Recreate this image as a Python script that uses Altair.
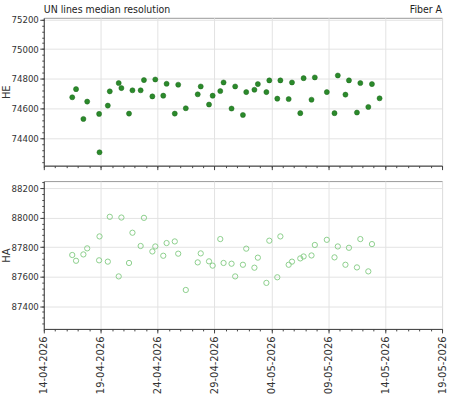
import altair as alt
import pandas as pd

TITLE_LEFT = "UN lines median resolution"
TITLE_RIGHT = "Fiber A"

times = [
    "2026-04-16T12:00", "2026-04-16T20:00", "2026-04-17T11:30", "2026-04-17T19:30",
    "2026-04-18T20:40", "2026-04-18T21:30", "2026-04-19T15:00", "2026-04-19T19:10",
    "2026-04-20T14:00", "2026-04-20T19:40", "2026-04-21T11:45", "2026-04-21T19:00",
    "2026-04-22T12:15", "2026-04-22T19:15", "2026-04-23T13:00", "2026-04-23T19:10",
    "2026-04-24T12:00", "2026-04-24T19:00", "2026-04-25T12:15", "2026-04-25T19:30",
    "2026-04-26T11:30", "2026-04-27T12:40", "2026-04-27T19:00", "2026-04-28T12:30",
    "2026-04-28T20:10", "2026-04-29T12:15", "2026-04-29T19:10", "2026-04-30T12:00",
    "2026-04-30T19:40", "2026-05-01T12:00", "2026-05-01T19:00", "2026-05-02T12:15",
    "2026-05-02T19:30", "2026-05-03T13:30", "2026-05-03T19:40", "2026-05-04T12:30",
    "2026-05-04T19:00", "2026-05-05T12:30", "2026-05-05T19:30", "2026-05-06T13:00",
    "2026-05-06T20:00", "2026-05-07T12:40", "2026-05-07T19:40", "2026-05-08T21:00",
    "2026-05-09T13:10", "2026-05-09T20:10", "2026-05-10T12:15", "2026-05-10T19:40",
    "2026-05-11T12:30", "2026-05-11T19:40", "2026-05-12T12:30", "2026-05-12T20:10",
    "2026-05-13T12:15",
]

he_values = [
    74675, 74730, 74529, 74646, 74563, 74304, 74619, 74715,
    74771, 74737, 74565, 74722, 74722, 74791, 74681, 74795,
    74686, 74766, 74565, 74760, 74601, 74695, 74748, 74626,
    74686, 74717, 74775, 74599, 74748, 74556, 74710, 74726,
    74764, 74710, 74789, 74666, 74789, 74663, 74775, 74568,
    74804, 74659, 74809, 74710, 74568, 74822, 74693, 74789,
    74572, 74771, 74610, 74764, 74668,
]

ha_values = [
    87746, 87707, 87750, 87791, 87710, 87872, 87701, 88005,
    87601, 88000, 87692, 87897, 87807, 87998, 87770, 87804,
    87741, 87827, 87838, 87755, 87509, 87696, 87757, 87703,
    87674, 87854, 87692, 87687, 87601, 87680, 87789, 87660,
    87728, 87557, 87843, 87595, 87872, 87680, 87701, 87723,
    87736, 87743, 87814, 87849, 87730, 87804, 87680, 87795,
    87662, 87854, 87635, 87820, None,
]

he_domain = [74214, 75211]
ha_domain = [87245, 88247]
he_ticks = [74400, 74600, 74800, 75000, 75200]
ha_ticks = [87400, 87600, 87800, 88000, 88200]
he_minor = list(range(74240, 75211, 40))
ha_minor = list(range(87280, 88247, 40))

x_major = [alt.DateTime(year=2026, month=m, date=d) for m, d in
           [(4, 14), (4, 19), (4, 24), (4, 29), (5, 4), (5, 9), (5, 14), (5, 19)]]
x_minor = ([alt.DateTime(year=2026, month=4, date=d) for d in range(14, 31)] +
           [alt.DateTime(year=2026, month=5, date=d) for d in range(1, 20)])
x_domain = [alt.DateTime(year=2026, month=4, date=14), alt.DateTime(year=2026, month=5, date=19)]

NARROW = "Liberation Sans Narrow, DejaVu Sans Condensed, Arial Narrow, sans-serif"
DEJAVU = "DejaVu Sans"
W, H = 400, 148.5

df = pd.DataFrame({"t": times, "HE": he_values, "HA": ha_values})
df_ha = df.dropna(subset=["HA"])

xscale = alt.Scale(domain=x_domain)


def panel(data, field, domain, ticks, minor, show_labels, mark):
    yscale = alt.Scale(domain=domain, nice=False, zero=False)
    main = mark.encode(
        x=alt.X("t:T", scale=xscale, title=None,
                axis=alt.Axis(values=x_major, format="%d-%m-%Y", labelAngle=270,
                              labels=show_labels, grid=True, tickSize=4,
                              labelFont=DEJAVU, labelFontSize=10, labelColor="#333",
                              labelPadding=3, orient="bottom")),
        y=alt.Y(f"{field}:Q", scale=yscale, title=field,
                axis=alt.Axis(values=ticks, format="d", grid=True, tickSize=4,
                              labelFont=NARROW, labelFontSize=9.6, labelColor="#333",
                              labelPadding=1.5, titleFont=DEJAVU, titleFontSize=10,
                              titleFontWeight="normal", titleColor="#333",
                              titlePadding=0, orient="left")),
    )
    minor_layer = alt.Chart(data).mark_point(opacity=0).encode(
        x=alt.X("t:T", scale=xscale, title=None,
                axis=alt.Axis(values=x_minor, labels=False, grid=False, domain=False,
                              tickSize=2, orient="bottom")),
        y=alt.Y(f"{field}:Q", scale=yscale, title=None,
                axis=alt.Axis(values=minor, labels=False, grid=False, domain=False,
                              tickSize=2, orient="left")),
    )
    return alt.layer(main, minor_layer).resolve_axis(x="independent", y="independent")


top_mark = alt.Chart(df).mark_point(filled=True, size=26, color="#2b8a2b", opacity=1,
                                    stroke="#1f6a1f", strokeWidth=0.5)
bottom_mark = alt.Chart(df_ha).mark_point(filled=False, size=28, color="#8ccf8c",
                                          strokeWidth=1, opacity=1)

title_df = pd.DataFrame({"left": [TITLE_LEFT], "right": [TITLE_RIGHT]})
title_l = alt.Chart(title_df).mark_text(align="left", baseline="middle", font=NARROW,
                                         fontSize=10.5, color="#222").encode(
    x=alt.value(0), y=alt.value(-8), text="left:N")
title_r = alt.Chart(title_df).mark_text(align="right", baseline="middle", font=NARROW,
                                         fontSize=10.5, color="#222").encode(
    x=alt.value(W), y=alt.value(-8), text="right:N")

top = alt.layer(panel(df, "HE", he_domain, he_ticks, he_minor, False, top_mark),
                title_l, title_r).properties(width=W, height=H)
bottom = panel(df_ha, "HA", ha_domain, ha_ticks, ha_minor, True, bottom_mark).properties(
    width=W, height=H)

chart = alt.vconcat(top, bottom, spacing=9).properties(
    padding={"left": 0, "top": 3, "right": 2, "bottom": 4}
).configure_view(stroke="#999", strokeWidth=1).configure_axis(
    domainColor="#444", tickColor="#444", gridColor="#e3e3e3", gridWidth=1
)

chart.save("out.html", embed_options={"renderer": "svg", "actions": False})
